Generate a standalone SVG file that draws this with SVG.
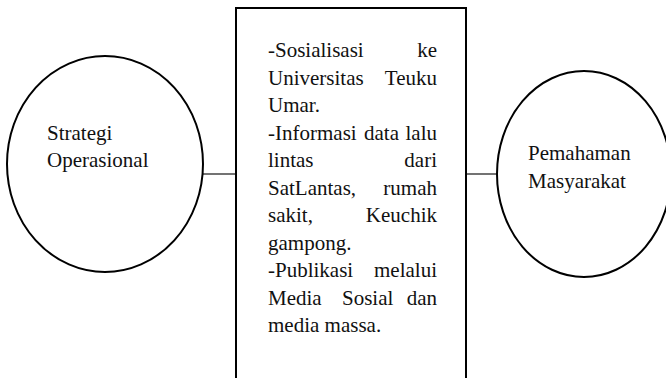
<svg xmlns="http://www.w3.org/2000/svg" width="666" height="378" viewBox="0 0 666 378">
<style>
.shape{fill:#fff;stroke:#000;stroke-width:2}
.conn{stroke:#444;stroke-width:1.5;fill:none}
text{font-family:"Liberation Serif","Times New Roman",serif;font-size:21px;fill:#111}
.e{text-anchor:end}
</style>
<rect width="666" height="378" fill="#fff"/>
<g id="connectors">
<line class="conn" x1="203" y1="174" x2="236" y2="174"/>
<line class="conn" x1="466" y1="174" x2="497" y2="174"/>
</g>
<g id="strategi">
<ellipse class="shape" cx="105" cy="164" rx="98" ry="108"/>
<text x="47" y="140">Strategi</text>
<text x="47" y="167">Operasional</text>
</g>
<g id="kegiatan">
<path class="shape" d="M236,390 V8 H466 V390"/>
<text x="268" y="57">-Sosialisasi</text><text class="e" x="437" y="57">ke</text>
<text x="268" y="85">Universitas</text><text class="e" x="437" y="85">Teuku</text>
<text x="268" y="112">Umar.</text>
<text x="268" y="140">-Informasi</text><text x="364" y="140">data</text><text class="e" x="437" y="140">lalu</text>
<text x="268" y="167">lintas</text><text class="e" x="437" y="167">dari</text>
<text x="268" y="195">SatLantas,</text><text class="e" x="437" y="195">rumah</text>
<text x="268" y="222">sakit,</text><text class="e" x="437" y="222">Keuchik</text>
<text x="268" y="250">gampong.</text>
<text x="268" y="277">-Publikasi</text><text class="e" x="437" y="277">melalui</text>
<text x="268" y="305">Media</text><text x="342" y="305">Sosial</text><text class="e" x="437" y="305">dan</text>
<text x="268" y="332">media massa.</text>
</g>
<g id="pemahaman">
<ellipse class="shape" cx="584" cy="174" rx="87" ry="103"/>
<text x="528" y="160">Pemahaman</text>
<text x="528" y="188">Masyarakat</text>
</g>
</svg>
